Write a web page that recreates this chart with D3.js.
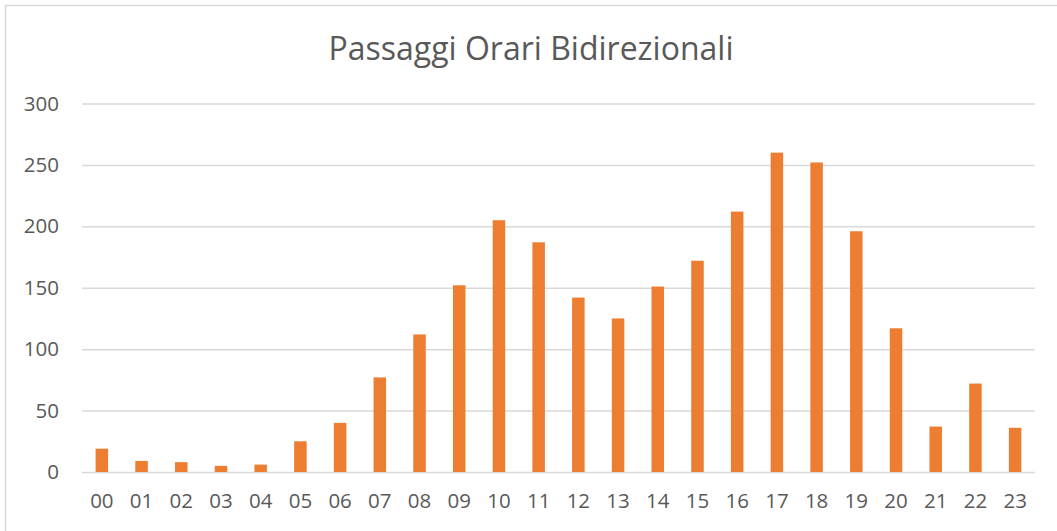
<!DOCTYPE html>
<html>
<head>
<meta charset="utf-8">
<script src="https://cdn.jsdelivr.net/npm/d3@7"></script>
<style>
  body { margin: 0; background: #fff; }
  svg { display: block; font-family: "Open Sans", sans-serif; }
</style>
</head>
<body>
<svg width="1057" height="531"></svg>
<script>
// hour categories and bidirectional counts
const hours = ["00", "01", "02", "03", "04", "05", "06", "07", "08", "09", "10", "11",
               "12", "13", "14", "15", "16", "17", "18", "19", "20", "21", "22", "23"]
const passages = [19, 9, 8, 5, 6, 25, 40, 77, 112, 152, 205, 187,
                  142, 125, 151, 172, 212, 260, 252, 196, 117, 37, 72, 36]
const yTicks = [0, 50, 100, 150, 200, 250, 300]
const title = "Passaggi Orari Bidirezionali"

const svg = d3.select("svg")
const plotLeft = 82, plotRight = 1035, plotTop = 103.5, plotBottom = 472

// chart frame (only top and left edges show in the picture)
svg.append("path")
    .attr("d", "M5.5,531 V5.5 H1057")
    .attr("fill", "none")
    .attr("stroke", "#d9d9d9")
    .attr("stroke-width", 1.5)

const x = d3.scaleBand()
    .domain(hours)
    .range([plotLeft, plotRight])
    .paddingInner(0.685)
    .paddingOuter(0.3425)

const y = d3.scaleLinear()
    .domain([0, 300])
    .range([plotBottom, plotTop])

// gridlines + y labels
const yAxis = d3.axisLeft(y)
    .tickValues(yTicks)
    .tickSize(-(plotRight - plotLeft))
    .tickPadding(23)

svg.append("g")
    .attr("transform", `translate(${plotLeft},0)`)
    .call(yAxis)
    .call(g => g.select(".domain").remove())
    .call(g => g.selectAll(".tick line").attr("stroke", "#d9d9d9").attr("stroke-width", 1.5))
    .call(g => g.selectAll(".tick text")
        .attr("fill", "#595959")
        .style("font-size", "20.5px")
        .style("font-family", "'Open Sans', sans-serif"))

// bars
svg.append("g")
    .selectAll("rect")
    .data(passages)
    .join("rect")
    .attr("x", (d, i) => x(hours[i]))
    .attr("width", x.bandwidth())
    .attr("y", d => y(d))
    .attr("height", d => y(0) - y(d))
    .attr("fill", "#ed7d31")

// x labels
const xAxis = d3.axisBottom(x).tickSize(0).tickPadding(21)
svg.append("g")
    .attr("transform", `translate(0,${plotBottom})`)
    .call(xAxis)
    .call(g => g.select(".domain").remove())
    .call(g => g.selectAll(".tick text")
        .attr("fill", "#595959")
        .style("font-size", "20.5px")
        .style("font-family", "'Open Sans', sans-serif"))

// title
svg.append("text")
    .attr("x", 531)
    .attr("y", 60)
    .attr("text-anchor", "middle")
    .attr("fill", "#595959")
    .style("font-size", "32px")
    .text(title)
</script>
</body>
</html>
